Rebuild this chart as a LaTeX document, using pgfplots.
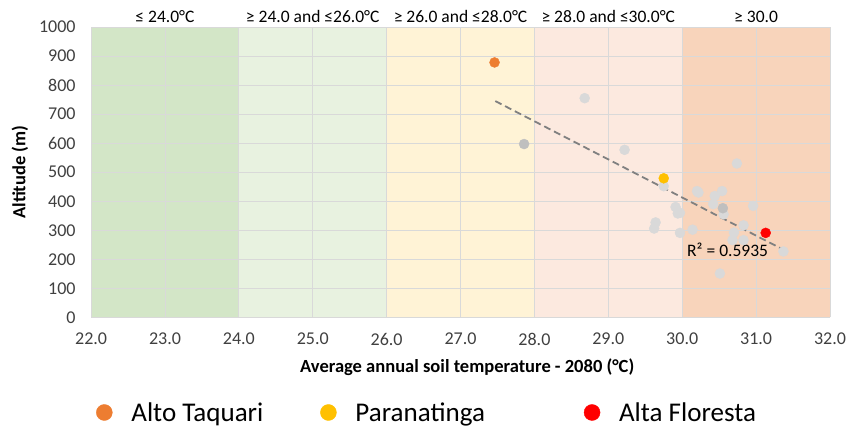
\documentclass[border=0pt]{standalone}
\usepackage{pgfplots}
\pgfplotsset{compat=1.18}
\usepackage{fontspec}
\setmainfont{Carlito}
\definecolor{bandA}{HTML}{D3E6C7}
\definecolor{bandB}{HTML}{E8F2E0}
\definecolor{bandC}{HTML}{FFF3D6}
\definecolor{bandD}{HTML}{FCE9DF}
\definecolor{bandE}{HTML}{F8D4BB}
\definecolor{ptgray}{HTML}{D9D9D9}
\definecolor{ptdark}{HTML}{BFBFBF}
\definecolor{cOrange}{HTML}{ED7D31}
\definecolor{cYellow}{HTML}{FFC000}
\definecolor{cRed}{HTML}{FF0000}
\definecolor{tickgray}{HTML}{404040}
\begin{document}
\begin{tikzpicture}
\begin{axis}[
  set layers=standard, clip=false,
  scale only axis, width=738pt, height=290pt,
  xmin=22, xmax=32, ymin=0, ymax=1000,
  xtick={22,23,...,32}, ytick={0,100,...,1000},
  /pgf/number format/assume math mode=true,
  /pgf/number format/1000 sep={},
  ticklabel style={font=\fontsize{18}{20}\selectfont, color=tickgray},
  xticklabel style={yshift=-12pt, /pgf/number format/.cd, fixed, fixed zerofill, precision=1},
  yticklabel style={xshift=-12pt},
  grid=major, grid style={color=black!15, line width=0.8pt},
  axis line style={draw=none}, major tick style={draw=none},
  xlabel={\bfseries Average annual soil temperature - 2080 (°C)},
  ylabel={\bfseries Altitude (m)},
  label style={font=\fontsize{18.5}{20}\selectfont},
  xlabel style={at={(rel axis cs:0.509,0)}, anchor=center, yshift=-50pt},
  ylabel style={at={(rel axis cs:0,0.5)}, anchor=center, yshift=71pt},
  legend style={at={(rel axis cs:0,0)}, anchor=west, xshift=5pt, yshift=-95pt,
    draw=none, fill=none, inner sep=0pt,
    legend columns=3, font=\fontsize{27}{29}\selectfont,
    /tikz/every odd column/.append style={column sep=17pt},
    /tikz/every even column/.append style={column sep=55pt}},
  legend image code/.code={\draw[#1, mark size=8pt] plot coordinates {(0.3cm,0cm)};},
]
\addplot[on layer=axis background, fill=bandA, draw=none, forget plot] coordinates {(22,0) (22,1000) (24,1000) (24,0)} \closedcycle;
\addplot[on layer=axis background, fill=bandB, draw=none, forget plot] coordinates {(24,0) (24,1000) (26,1000) (26,0)} \closedcycle;
\addplot[on layer=axis background, fill=bandC, draw=none, forget plot] coordinates {(26,0) (26,1000) (28,1000) (28,0)} \closedcycle;
\addplot[on layer=axis background, fill=bandD, draw=none, forget plot] coordinates {(28,0) (28,1000) (30,1000) (30,0)} \closedcycle;
\addplot[on layer=axis background, fill=bandE, draw=none, forget plot] coordinates {(30,0) (30,1000) (32,1000) (32,0)} \closedcycle;
% grey stations
\addplot[only marks, mark=*, mark size=5pt, color=ptgray, forget plot] coordinates {
(28.68,755) (29.22,577) (29.75,452) (30.20,435) (30.22,430) (30.54,435)
(30.44,418) (30.42,390) (30.56,355) (30.74,530) (30.96,384) (29.91,380)
(29.94,358) (29.97,360) (29.64,327) (29.62,306) (29.97,291) (30.14,302)
(30.83,317) (30.70,292) (30.68,266) (30.83,266) (31.37,227) (30.51,151)
};
\addplot[only marks, mark=*, mark size=5pt, color=ptdark, forget plot] coordinates {
(27.86,597) (30.55,376)
};
% trend line
\addplot[dashed, dash pattern=on 7pt off 4pt, color=black!50, line width=1.8pt, forget plot] coordinates {(27.47,745) (31.37,233)};
\addplot[only marks, mark=*, mark size=5pt, color=cOrange] coordinates {(27.46,878)};
\addlegendentry{Alto Taquari}
\addplot[only marks, mark=*, mark size=5pt, color=cYellow] coordinates {(29.75,479)};
\addlegendentry{Paranatinga\hspace*{42pt}}
\addplot[only marks, mark=*, mark size=5pt, color=cRed] coordinates {(31.13,291)};
\addlegendentry{Alta Floresta}
\node[anchor=west, font=\fontsize{17.5}{19}\selectfont] at (axis cs:30.02,233) {R² = 0.5935};
\node[anchor=base, font=\fontsize{17.5}{19}\selectfont] at (axis cs:23,1017) {≤ 24.0°C};
\node[anchor=base, font=\fontsize{17.5}{19}\selectfont] at (axis cs:25,1017) {≥ 24.0 and ≤26.0°C};
\node[anchor=base, font=\fontsize{17.5}{19}\selectfont] at (axis cs:27,1017) {≥ 26.0 and ≤28.0°C};
\node[anchor=base, font=\fontsize{17.5}{19}\selectfont] at (axis cs:29,1017) {≥ 28.0 and ≤30.0°C};
\node[anchor=base, font=\fontsize{17.5}{19}\selectfont] at (axis cs:31,1017) {≥ 30.0};
\path (rel axis cs:0,0) ++(-91pt,-111pt);
\path (rel axis cs:1,1) ++(21pt,27pt);
\end{axis}
\end{tikzpicture}
\end{document}
